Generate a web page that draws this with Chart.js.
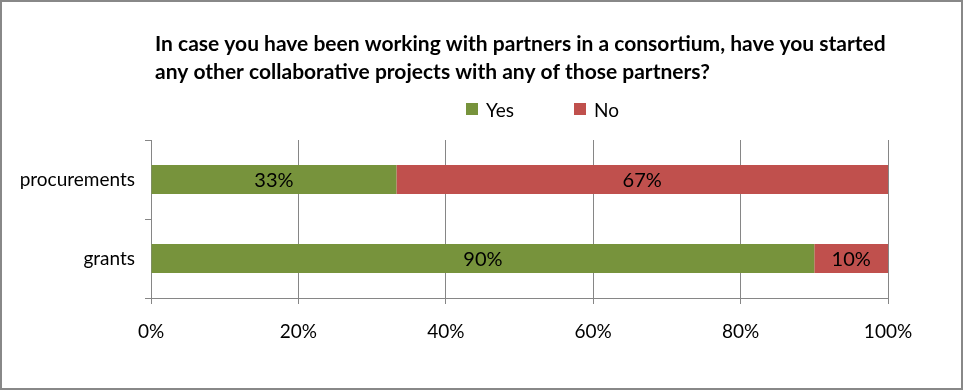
<!DOCTYPE html>
<html>
<head>
<meta charset="utf-8">
<script src="https://cdn.jsdelivr.net/npm/chart.js@4.4.1/dist/chart.umd.min.js"></script>
<style>
  html, body { margin: 0; padding: 0; background: #fff; }
  #box { width: 959px; height: 386px; border: 2px solid #888; background: #fff; }
</style>
</head>
<body>
<div id="box"><canvas id="grafico" width="959" height="386"></canvas></div>
<script>
// datos
const categorias = ['procurements', 'grants'];
const serieSi = [33.3, 90];
const serieNo = [66.7, 10];
const etiquetasSi = ['33%', '90%'];
const etiquetasNo = ['67%', '10%'];
const tituloLineas = [
  'In case you have been working with partners in a consortium, have you started',
  'any other collaborative projects with any of those partners?'
];
const leyenda = ['Yes', 'No'];

const VERDE = '#77933C';
const ROJO = '#C0504D';
const FUENTE = 'Lato, "Open Sans", sans-serif';

// titulo y leyenda al estilo Excel (alineados a la izquierda)
const cabecera = {
  id: 'cabecera',
  afterDraw(chart) {
    const ctx = chart.ctx;
    ctx.save();
    ctx.fillStyle = '#000';
    ctx.font = 'bold 21px ' + FUENTE;
    ctx.textBaseline = 'alphabetic';
    ctx.textAlign = 'left';
    tituloLineas.forEach((t, i) => ctx.fillText(t, 153, 49 + i * 28));

    const colores = [VERDE, ROJO];
    const xs = [464, 572];
    ctx.font = '19px ' + FUENTE;
    leyenda.forEach((t, i) => {
      ctx.fillStyle = colores[i];
      ctx.fillRect(xs[i], 101, 12, 12);
      ctx.fillStyle = '#000';
      ctx.fillText(t, xs[i] + 20, 115);
    });
    ctx.restore();
  }
};

// porcentajes dentro de cada segmento
const etiquetas = {
  id: 'etiquetas',
  afterDatasetsDraw(chart) {
    const ctx = chart.ctx;
    ctx.save();
    ctx.font = '20px ' + FUENTE;
    ctx.fillStyle = '#000';
    ctx.textAlign = 'center';
    ctx.textBaseline = 'middle';
    const textos = [etiquetasSi, etiquetasNo];
    chart.data.datasets.forEach((ds, d) => {
      chart.getDatasetMeta(d).data.forEach((bar, i) => {
        ctx.fillText(textos[d][i], (bar.x + bar.base) / 2, bar.y + 1);
      });
    });
    ctx.restore();
  }
};

const ctx = document.getElementById('grafico').getContext('2d');

new Chart(ctx, {
  type: 'bar',
  data: {
    labels: categorias,
    datasets: [
      { label: leyenda[0], data: serieSi, backgroundColor: VERDE, borderWidth: 0 },
      { label: leyenda[1], data: serieNo, backgroundColor: ROJO, borderWidth: 0 }
    ]
  },
  options: {
    indexAxis: 'y',
    responsive: false,
    animation: false,
    layout: { padding: { top: 138, right: 73, bottom: 0, left: 0 } },
    plugins: {
      legend: { display: false },
      title: { display: false },
      tooltip: { enabled: false }
    },
    datasets: { bar: { categoryPercentage: 0.37, barPercentage: 1 } },
    scales: {
      x: {
        stacked: true,
        min: 0,
        max: 100,
        afterFit: s => { s.height = 90; },
        border: { color: '#868686', width: 1 },
        grid: { color: '#868686', lineWidth: 1, tickLength: 6, drawTicks: true },
        ticks: {
          stepSize: 20,
          padding: 16,
          color: '#000',
          font: { family: FUENTE, size: 19 },
          callback: v => v + '%'
        }
      },
      y: {
        stacked: true,
        afterFit: s => { s.width = 149; },
        border: { color: '#868686', width: 1 },
        grid: { offset: true, drawOnChartArea: false, color: '#868686', tickLength: 6 },
        ticks: {
          padding: 10,
          color: '#000',
          font: { family: FUENTE, size: 19 }
        }
      }
    }
  },
  plugins: [cabecera, etiquetas]
});
</script>
</body>
</html>
